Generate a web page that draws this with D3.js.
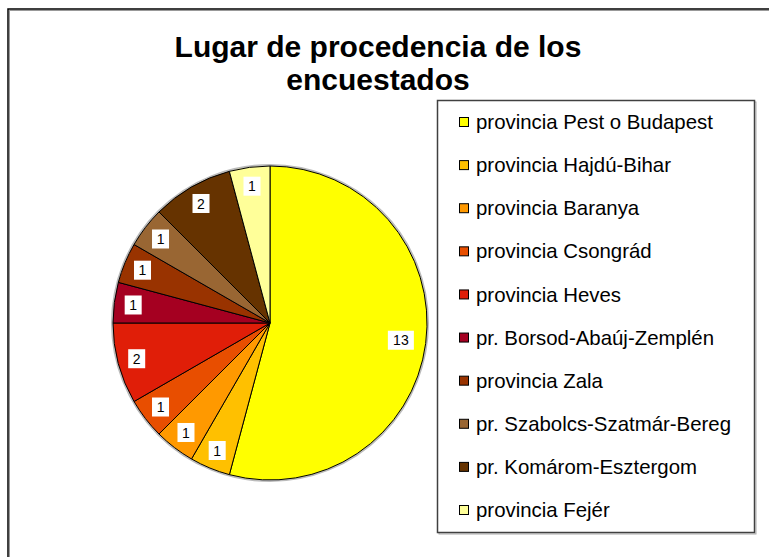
<!DOCTYPE html>
<html>
<head>
<meta charset="utf-8">
<script src="https://cdn.jsdelivr.net/npm/d3@7"></script>
<style>
  body { margin: 0; background: #fff; }
  svg { display: block; font-family: 'Liberation Sans', Arial, sans-serif; }
</style>
</head>
<body>
<svg id="chart" width="769" height="557"></svg>
<script>
const categories = [
  'provincia Pest o Budapest',
  'provincia Hajdú-Bihar',
  'provincia Baranya',
  'provincia Csongrád',
  'provincia Heves',
  'pr. Borsod-Abaúj-Zemplén',
  'provincia Zala',
  'pr. Szabolcs-Szatmár-Bereg',
  'pr. Komárom-Esztergom',
  'provincia Fejér',
]
const values = [13, 1, 1, 1, 2, 1, 1, 1, 2, 1]
const colors = [
  '#ffff00', '#ffc000', '#ff9900', '#e84e00', '#e01e08',
  '#a50021', '#993300', '#996633', '#663300', '#ffff99',
]
const titleLines = ['Lugar de procedencia de los', 'encuestados']

const data = categories.map((c, i) => ({ name: c, value: values[i] }))

const svg = d3.select('#chart')

// outer frame (runs off the right and bottom edges)
svg.append('rect')
  .attr('x', 9.5).attr('y', 10.5)
  .attr('width', 800).attr('height', 600)
  .attr('fill', 'none').attr('stroke', '#999').attr('stroke-width', 1)
svg.append('rect')
  .attr('x', 8).attr('y', 9)
  .attr('width', 800).attr('height', 600)
  .attr('fill', 'none').attr('stroke', '#000').attr('stroke-width', 1.5)

// title
svg.append('text')
  .attr('x', 378)
  .attr('y', 57)
  .attr('text-anchor', 'middle')
  .style('font-weight', 'bold')
  .style('font-size', '30px')
  .selectAll('tspan')
  .data(titleLines)
  .join('tspan')
  .attr('x', 378)
  .attr('dy', (d, i) => (i === 0 ? 0 : 33))
  .text((d) => d)

// pie
const cx = 270
const cy = 323
const radius = 157

const pie = d3.pie().sort(null).value((d) => d.value)
const arc = d3.arc().innerRadius(0).outerRadius(radius)
const labelArc = d3.arc().innerRadius(138).outerRadius(138)
const color = d3.scaleOrdinal().domain(categories).range(colors)

const g = svg.append('g').attr('transform', `translate(${cx},${cy})`)

// soft shadow ring
g.append('circle')
  .attr('r', radius + 1)
  .attr('fill', 'none')
  .attr('stroke', '#bbb')
  .attr('stroke-width', 2)

const arcs = pie(data)

g.selectAll('path')
  .data(arcs)
  .join('path')
  .attr('d', arc)
  .attr('fill', (d) => color(d.data.name))
  .attr('stroke', '#000')
  .attr('stroke-width', 1)

const labels = g.selectAll('g.lbl')
  .data(arcs)
  .join('g')
  .attr('class', 'lbl')
  .attr('transform', (d) => {
    // the big slice's label sits a little further in
    const r = d.data.value > 10 ? 132 : 138
    const a = (d.startAngle + d.endAngle) / 2
    return `translate(${Math.sin(a) * r},${-Math.cos(a) * r})`
  })

labels.append('rect')
  .attr('x', (d) => (String(d.data.value).length > 1 ? -13 : -8.5))
  .attr('y', -9.5)
  .attr('width', (d) => (String(d.data.value).length > 1 ? 26 : 17))
  .attr('height', 19)
  .attr('fill', '#fff')

labels.append('text')
  .attr('text-anchor', 'middle')
  .attr('dy', '0.36em')
  .style('font-size', '14px')
  .attr('fill', '#000')
  .text((d) => d.data.value)

// legend
const legendX = 437.5
const legendY = 100.5
const legendW = 317
const legendH = 432

svg.append('rect')
  .attr('x', legendX + 1.5).attr('y', legendY + 1.5)
  .attr('width', legendW).attr('height', legendH)
  .attr('fill', 'none').attr('stroke', '#aaa').attr('stroke-width', 1)
svg.append('rect')
  .attr('x', legendX).attr('y', legendY)
  .attr('width', legendW).attr('height', legendH)
  .attr('fill', '#fff').attr('stroke', '#404040').attr('stroke-width', 1.5)

const ly = d3.scalePoint()
  .domain(categories)
  .range([122, 510])

const items = svg.append('g')
  .selectAll('g')
  .data(categories)
  .join('g')
  .attr('transform', (d) => `translate(0,${ly(d)})`)

items.append('rect')
  .attr('x', 459.5).attr('y', -4.5)
  .attr('width', 9).attr('height', 9)
  .attr('fill', (d) => color(d))
  .attr('stroke', '#000').attr('stroke-width', 1)

items.append('text')
  .attr('x', 476)
  .attr('dy', '0.35em')
  .style('font-size', '20.4px')
  .attr('fill', '#000')
  .text((d) => d)
</script>
</body>
</html>
